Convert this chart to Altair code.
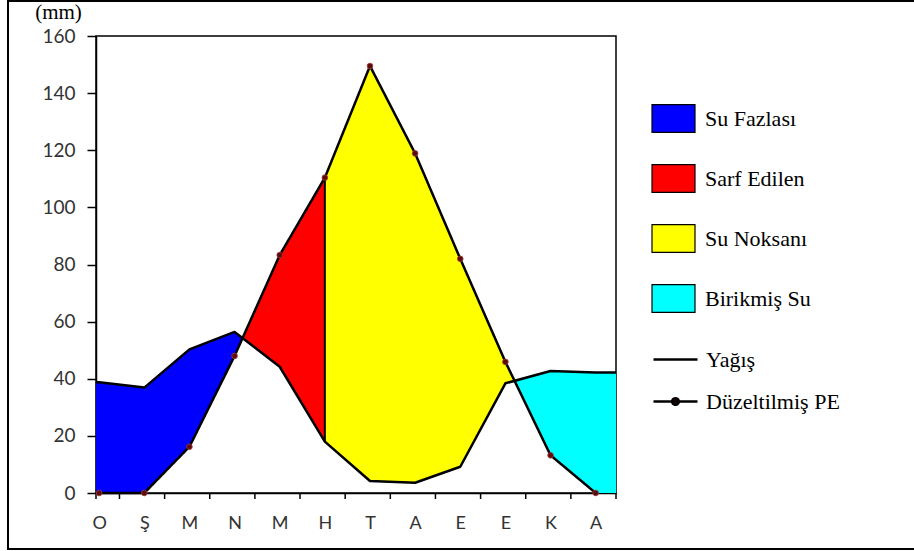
import json
import numpy as np
import pandas as pd
import altair as alt

# ---------------- data ----------------
months = ['O', 'Ş', 'M', 'N', 'M', 'H', 'T', 'A', 'E', 'E', 'K', 'A']
yagis = [38.8, 36.9, 50.3, 56.4, 44.2, 18.0, 4.2, 3.6, 9.2, 38.4, 42.7, 42.2]
pe = [0.0, 0.0, 16.2, 48.0, 83.3, 110.4, 149.5, 118.9, 82.0, 45.9, 13.2, 0.0]
band_names = ['Su Fazlası', 'Sarf Edilen', 'Su Noksanı', 'Birikmiş Su']
band_colors = ['#0000ff', '#ff0000', '#ffff00', '#00ffff']
line_names = ['Yağış', 'Düzeltilmiş PE']
sarf_end = 5            # month index (H) where stored water is used up
y_ticks = [0, 20, 40, 60, 80, 100, 120, 140, 160]

X_MIN, X_MAX = -0.07, 11.45
W, H = 520, 457

idx = list(range(len(months)))
tick_positions = [X_MIN] + [i + 0.45 for i in idx]

# precipitation polyline runs edge to edge of the plot
p_x = [X_MIN] + idx + [X_MAX]
p_y = [yagis[0]] + yagis + [yagis[-1]]
e_y = [pe[0]] + pe + [pe[-1]]

# crossings of the two curves
diff = np.array(p_y) - np.array(e_y)
cross = []
for k in range(len(p_x) - 1):
    d0, d1 = diff[k], diff[k + 1]
    if d0 * d1 < 0:
        cross.append(p_x[k] + (p_x[k + 1] - p_x[k]) * d0 / (d0 - d1))
bounds = [X_MIN, cross[0], sarf_end, cross[-1], X_MAX]

rows = []
for b, name in enumerate(band_names):
    a, z = bounds[b], bounds[b + 1]
    xs = [a] + [x for x in p_x if a < x < z] + [z]
    for x in xs:
        pv = float(np.interp(x, p_x, p_y))
        ev = float(np.interp(x, p_x, e_y))
        rows.append({'band': name, 'x': x, 'top': max(pv, ev), 'bottom': min(pv, ev)})
area_df = pd.DataFrame(rows)

yagis_df = pd.DataFrame({'series': line_names[0], 'x': p_x, 'y': p_y})
pe_df = pd.DataFrame({'series': line_names[1], 'x': idx, 'y': pe})
rule_df = pd.DataFrame({'x': [sarf_end], 'y': [yagis[sarf_end]], 'y2': [pe[sarf_end]]})
tick_df = pd.DataFrame({'x': tick_positions})

# ---------------- scales / axes ----------------
xscale = alt.Scale(domain=[X_MIN, X_MAX], nice=False, zero=False)
yscale = alt.Scale(domain=[0, 160], nice=False)

months_js = json.dumps(months, ensure_ascii=False)
xaxis = alt.Axis(
    values=idx, title=None, grid=False, ticks=False,
    labelExpr=f"{months_js}[datum.value]",
    labelOverlap=False, labelFlush=False,
    labelFont='Lato', labelFontSize=18, labelColor='#333333', labelPadding=21,
    domainColor='black', domainWidth=1.5,
)
yaxis = alt.Axis(
    values=y_ticks, grid=False, title='(mm)', titleAngle=0,
    titleX=-38, titleY=-18, titleAlign='center', titleBaseline='alphabetic',
    titleFont='Liberation Serif', titleFontSize=21, titleFontWeight='normal',
    titleColor='black',
    labelFont='Lato', labelFontSize=19, labelColor='#333333', labelPadding=12,
    tickSize=9, tickColor='black', tickWidth=1.5,
    domainColor='black', domainWidth=1.5,
)

label_style = dict(labelFont='Liberation Serif', labelFontSize=22, labelColor='black',
                   labelLimit=300, title=None, orient='none', padding=0)

fill_legend = alt.Legend(
    legendX=566, legendY=71,
    symbolType='M-2,-1.3H2V1.3H-2Z', symbolSize=462, symbolStrokeColor='black',
    symbolStrokeWidth=1.2, symbolOpacity=1,
    labelOffset=20, rowPadding=27, **label_style,
)
yagis_legend = alt.Legend(
    legendX=567, legendY=311,
    symbolType='M-2,0H2', symbolSize=484, symbolStrokeWidth=2.5,
    labelOffset=18, **label_style,
)
pe_legend = alt.Legend(
    legendX=567, legendY=353,
    symbolType='M-2,0H2M-0.3,0A0.3,0.3,0,1,1,0.3,0A0.3,0.3,0,1,1,-0.3,0Z',
    symbolSize=484, symbolStrokeWidth=2.5, symbolStrokeColor='black',
    symbolFillColor='#6a1010', symbolOpacity=1,
    labelOffset=18, **label_style,
)

# ---------------- layers ----------------
areas = alt.Chart(area_df).mark_area(opacity=1, interpolate='linear').encode(
    x=alt.X('x:Q', scale=xscale, axis=xaxis),
    y=alt.Y('top:Q', scale=yscale, axis=yaxis),
    y2='bottom:Q',
    fill=alt.Fill('band:N', scale=alt.Scale(domain=band_names, range=band_colors),
                  legend=fill_legend, sort=band_names),
)

xticks = alt.Chart(tick_df).mark_rule(color='black', strokeWidth=1.5).encode(
    x='x:Q', y=alt.value(H), y2=alt.value(H + 6)
)

rule = alt.Chart(rule_df).mark_rule(color='black', strokeWidth=2).encode(
    x='x:Q', y='y:Q', y2='y2:Q'
)

yagis_line = alt.Chart(yagis_df).mark_line(strokeWidth=2.5, strokeJoin='round').encode(
    x='x:Q', y='y:Q',
    stroke=alt.Stroke('series:N', scale=alt.Scale(domain=[line_names[0]], range=['black']),
                      legend=yagis_legend),
)

pe_line = alt.Chart(pe_df).mark_line(strokeWidth=2.5, strokeJoin='round', color='black').encode(
    x='x:Q', y='y:Q',
    strokeDash=alt.StrokeDash('series:N',
                              scale=alt.Scale(domain=[line_names[1]], range=[[1, 0]]),
                              legend=pe_legend),
)

dots = alt.Chart(pe_df).mark_circle(size=32, opacity=1, fill='#5a0c0c',
                                    stroke='#a03a3a', strokeWidth=0.8).encode(
    x='x:Q', y='y:Q'
)

frame = alt.Chart(pd.DataFrame({'a': [0]})).mark_rect(
    fillOpacity=0, stroke='black', strokeWidth=2
).encode(
    x=alt.value(-88), x2=alt.value(830), y=alt.value(-35), y2=alt.value(513)
)

chart = alt.layer(areas, xticks, rule, yagis_line, pe_line, dots, frame).properties(
    width=W, height=H,
    autosize=alt.AutoSizeParams(type='none'),
    padding={'left': 96, 'top': 36, 'right': 298, 'bottom': 58},
    background='white',
).configure_view(
    stroke='black', strokeWidth=1.5
).configure_legend(
    labelFont='Liberation Serif'
)

chart.save('out.html', embed_options={'renderer': 'svg', 'actions': False})
